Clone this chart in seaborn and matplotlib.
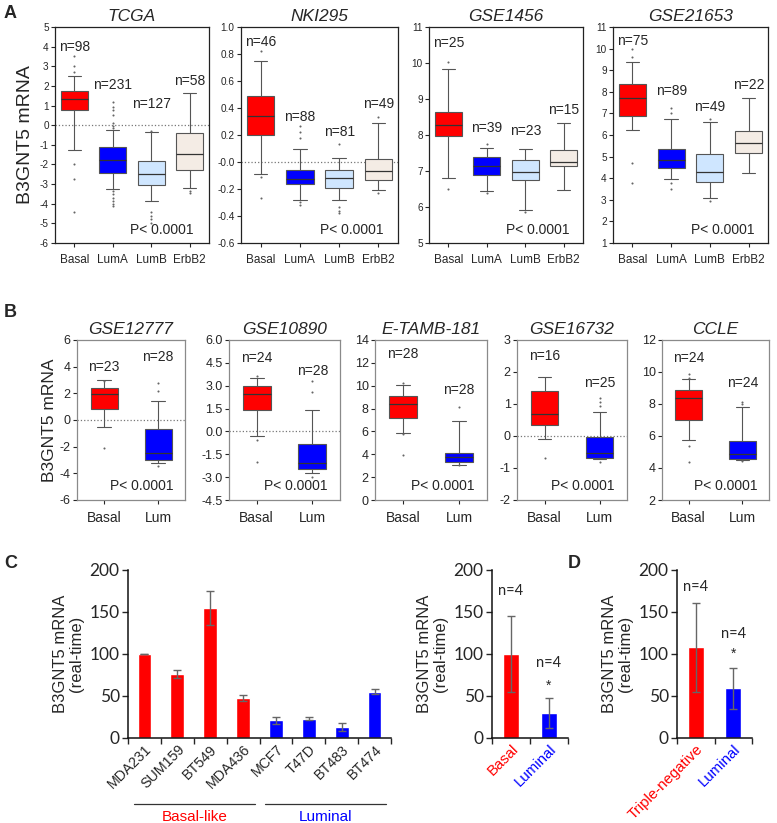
import numpy as np
import pandas as pd
import matplotlib.pyplot as plt
import matplotlib.transforms as mtransforms
import seaborn as sns

sns.set_style("ticks")
plt.rcParams["font.family"] = ["Liberation Sans", "DejaVu Sans"]

# ---- data: five-number summaries [low whisker, q1, median, q3, high whisker] ----
pam50 = ["Basal", "LumA", "LumB", "ErbB2"]
pam50_colors = ["#ff0000", "#0000ff", "#cfe6ff", "#f4ece5"]
two_groups = ["Basal", "Lum"]
two_colors = ["#ff0000", "#0000ff"]

tcga_stats = [[-1.24, 0.77, 1.33, 1.75, 2.48], [-3.26, -2.42, -1.77, -1.09, -0.25],
              [-3.88, -3.04, -2.48, -1.80, -0.33], [-3.20, -2.29, -1.46, -0.38, 1.65]]
tcga_out = [[3.5, 3.0, 2.7, -2.0, -2.75, -4.4],
            [1.2, 0.95, 0.75, 0.5, 0.1, -0.05, -0.15, -3.35, -3.5, -3.7, -3.85, -4.0, -4.1],
            [-0.3, -4.4, -4.6, -4.8, -5.0], [-3.35, -3.45]]
tcga_n = [98, 231, 127, 58]

nki_stats = [[-0.088, 0.198, 0.34, 0.49, 0.75], [-0.283, -0.164, -0.125, -0.061, 0.099],
             [-0.283, -0.194, -0.115, -0.058, 0.028], [-0.206, -0.135, -0.07, 0.02, 0.286]]
nki_out = [[0.82, -0.11, -0.27], [0.27, 0.22, 0.18, -0.30, -0.32],
           [0.13, -0.33, -0.36, -0.38], [0.33, -0.23]]
nki_n = [46, 88, 81, 49]

g1456_stats = [[6.8, 7.97, 8.27, 8.64, 9.82], [6.45, 6.89, 7.15, 7.38, 7.65],
               [5.92, 6.75, 6.96, 7.30, 7.60], [6.47, 7.15, 7.24, 7.57, 8.34]]
g1456_out = [[10.03, 6.5], [7.75, 6.4], [5.85], []]
g1456_n = [25, 39, 23, 15]

g21653_stats = [[6.22, 6.9, 7.69, 8.38, 9.38], [3.97, 4.48, 4.85, 5.37, 6.75],
                [3.08, 3.82, 4.31, 5.12, 6.6], [4.26, 5.15, 5.62, 6.18, 7.69]]
g21653_out = [[9.97, 9.6, 4.7, 3.77], [7.25, 7.0, 3.8, 3.5], [6.75, 2.95], []]
g21653_n = [75, 89, 49, 22]

g12777_stats = [[-0.53, 0.85, 1.92, 2.38, 3.0], [-3.25, -3.0, -2.5, -0.68, 1.45]]
g12777_out = [[2.9, -2.07], [2.75, 2.15, -3.45]]
g12777_n = [23, 28]

g10890_stats = [[-0.3, 1.38, 2.43, 2.98, 3.48], [-2.7, -2.45, -2.05, -0.83, 1.38]]
g10890_out = [[3.65, -0.55, -2.0], [3.3, 2.6, -3.0]]
g10890_n = [24, 28]

etamb_stats = [[5.9, 7.15, 8.4, 9.13, 10.06], [3.1, 3.3, 3.8, 4.12, 6.9]]
etamb_out = [[10.2, 5.8, 3.9], [8.1, 3.05]]
etamb_n = [28, 28]

g16732_stats = [[-0.1, 0.33, 0.69, 1.4, 1.83], [-0.73, -0.68, -0.54, -0.02, 0.76]]
g16732_out = [[-0.68], [1.2, 1.05, 0.95, -0.8]]
g16732_n = [16, 25]

ccle_stats = [[5.75, 6.98, 8.35, 8.88, 9.54], [4.5, 4.56, 4.85, 5.67, 7.83]]
ccle_out = [[9.85, 9.6, 5.35, 4.4], [8.15, 8.0, 4.45]]
ccle_n = [24, 24]

# panel C / D
cell_lines = ["MDA231", "SUM159", "BT549", "MDA436", "MCF7", "T47D", "BT483", "BT474"]
cell_type = ["Basal-like"] * 4 + ["Luminal"] * 4
cell_mrna = [100, 76, 155, 48, 21, 23, 13, 55]
cell_err = [0.5, 5, 20, 3.5, 4.5, 2, 4.5, 3]

subtype = ["Basal", "Luminal"]
subtype_mrna = [100, 30]
subtype_err = [45, 18]

tn_groups = ["Triple-negative", "Luminal"]
tn_mrna = [108, 59]
tn_err = [53, 24]

W, H = 777, 823
fig = plt.figure(figsize=(W / 100, H / 100), dpi=100)


def add_ax(left, top, width, height):
    return fig.add_axes([left / W, 1 - (top + height) / H, width / W, height / H])


def box_panel(ax, groups, colors, stats, outliers, counts, title, ylim, yticks, ylabels,
              n_y, width, tick_fs, lab_fs, p_pos, zero=True, frame="#222222"):
    df = pd.DataFrame({"group": np.repeat(groups, 5), "value": np.concatenate(stats)})
    if zero:
        ax.axhline(0, ls=":", color="#777777", lw=0.9, zorder=0)
    sns.boxplot(data=df, x="group", y="value", hue="group", order=groups,
                palette=dict(zip(groups, colors)), whis=(0, 100), width=width,
                linecolor="#555555", linewidth=0.8, fliersize=0, saturation=1,
                medianprops=dict(color="#333333", linewidth=0.9), legend=False, ax=ax)
    out = pd.DataFrame({"group": [g for g, o in zip(groups, outliers) for _ in o],
                        "value": np.concatenate([np.asarray(o, float) for o in outliers])})
    sns.stripplot(data=out, x="group", y="value", order=groups, jitter=False,
                  size=1.5, color="#666666", ax=ax)
    for i, (c, y) in enumerate(zip(counts, n_y)):
        ax.text(i, y, f"n={c}", ha="center", va="center", fontsize=10)
    ax.text(p_pos[0], p_pos[1], "P< 0.0001", transform=ax.transAxes,
            ha="right", va="baseline", fontsize=10)
    ax.set_xlim(-0.5, len(groups) - 0.5)
    ax.set_ylim(*ylim)
    ax.set_yticks(yticks)
    ax.set_yticklabels(ylabels)
    ax.set_xlabel("")
    ax.set_ylabel("")
    ax.set_title(title, style="italic", fontsize=12.5, pad=4)
    ax.tick_params(axis="y", labelsize=tick_fs, length=3, width=0.8, pad=1.5)
    ax.tick_params(axis="x", labelsize=lab_fs, length=3, width=0.8, pad=5)
    for s in ax.spines.values():
        s.set_visible(True)
        s.set_color(frame)
        s.set_linewidth(0.9)


def fmt(vals, pattern):
    return [pattern.format(v) for v in vals]


# ---- row A ----
axA = [add_ax(55, 27, 154, 216), add_ax(241, 27, 157, 216),
       add_ax(429, 27, 154, 216), add_ax(613, 27, 155, 216)]
box_panel(axA[0], pam50, pam50_colors, tcga_stats, tcga_out, tcga_n, "TCGA",
          (-6, 5), range(-6, 6), fmt(range(-6, 6), "{}"), [4.0, 2.05, 1.1, 2.25],
          0.7, 7.2, 8.5, (0.9, 0.04))
nki_ticks = np.round(np.arange(-0.6, 1.01, 0.2), 1)
box_panel(axA[1], pam50, pam50_colors, nki_stats, nki_out, nki_n, "NKI295",
          (-0.6, 1.0), nki_ticks, ["-0.6", "-0.4", "-0.2", "-0.0", "0.2", "0.4", "0.6", "0.8", "1.0"],
          [0.89, 0.335, 0.22, 0.43], 0.7, 7.2, 8.5, (0.91, 0.04))
box_panel(axA[2], pam50, pam50_colors, g1456_stats, g1456_out, g1456_n, "GSE1456",
          (5, 11), range(5, 12), fmt(range(5, 12), "{}"), [10.55, 8.2, 8.12, 8.7],
          0.7, 7.2, 8.5, (0.91, 0.04), zero=False)
box_panel(axA[3], pam50, pam50_colors, g21653_stats, g21653_out, g21653_n, "GSE21653",
          (1, 11), range(1, 12), fmt(range(1, 12), "{}"), [10.35, 8.05, 7.3, 8.3],
          0.7, 7.2, 8.5, (0.91, 0.04), zero=False)
axA[0].set_ylabel("B3GNT5 mRNA", fontsize=14, labelpad=4)

# ---- row B ----
gray = "#8a8a8a"
axB = [add_ax(77, 340, 108, 160), add_ax(229, 340, 111, 160), add_ax(375, 340, 112, 160),
       add_ax(517, 340, 110, 160), add_ax(662, 340, 107, 160)]
box_panel(axB[0], two_groups, two_colors, g12777_stats, g12777_out, g12777_n, "GSE12777",
          (-6, 6), range(-6, 7, 2), fmt(range(-6, 7, 2), "{}"), [4.0, 4.7],
          0.5, 9, 10, (0.89, 0.06), frame=gray)
t10890 = np.arange(-4.5, 6.1, 1.5)
box_panel(axB[1], two_groups, two_colors, g10890_stats, g10890_out, g10890_n, "GSE10890",
          (-4.5, 6), t10890, fmt(t10890, "{:.1f}"), [4.85, 3.95],
          0.5, 9, 10, (0.89, 0.06), frame=gray)
box_panel(axB[2], two_groups, two_colors, etamb_stats, etamb_out, etamb_n, "E-TAMB-181",
          (0, 14), range(0, 15, 2), fmt(range(0, 15, 2), "{}"), [12.8, 9.6],
          0.5, 9, 10, (0.89, 0.06), zero=False, frame=gray)
box_panel(axB[3], two_groups, two_colors, g16732_stats, g16732_out, g16732_n, "GSE16732",
          (-2, 3), range(-2, 4), fmt(range(-2, 4), "{}"), [2.5, 1.67],
          0.5, 9, 10, (0.89, 0.06), frame=gray)
box_panel(axB[4], two_groups, two_colors, ccle_stats, ccle_out, ccle_n, "CCLE",
          (2, 12), range(2, 13, 2), fmt(range(2, 13, 2), "{}"), [10.85, 9.3],
          0.5, 9, 10, (0.89, 0.06), zero=False, frame=gray)
axB[0].set_ylabel("B3GNT5 mRNA", fontsize=12.5, labelpad=2)


# ---- rows C / D ----
def bar_panel(ax, names, values, errs, colors, lab_fs, label_colors=None):
    sns.barplot(x=names, y=values, hue=names, palette=dict(zip(names, colors)),
                width=0.42, saturation=1, legend=False, ax=ax)
    ax.errorbar(np.arange(len(names)), values, yerr=errs, fmt="none",
                ecolor="#666666", elinewidth=1.0, capsize=3, capthick=1.0)
    ax.set_xlim(-0.5, len(names) - 0.5)
    ax.set_ylim(0, 200)
    ax.set_yticks([0, 50, 100, 150, 200])
    ax.set_xticks(np.arange(-0.5, len(names)), labels=[])
    ax.set_xticks(np.arange(len(names)), labels=names, minor=True)
    ax.tick_params(axis="x", which="major", length=4, width=1.0)
    ax.tick_params(axis="x", which="minor", length=0, labelsize=lab_fs, pad=3)
    plt.setp(ax.get_xticklabels(minor=True), rotation=45, ha="right", rotation_mode="anchor")
    ax.tick_params(axis="y", length=4, width=1.0, labelsize=12.5, pad=2)
    for lab in ax.get_yticklabels():
        lab.set_family("Lato")
    if label_colors:
        for lab, c in zip(ax.get_xticklabels(minor=True), label_colors):
            lab.set_color(c)
    sns.despine(ax=ax)
    for s in ["left", "bottom"]:
        ax.spines[s].set_linewidth(1.1)
        ax.spines[s].set_color("#111111")
    ax.set_xlabel("")
    ax.set_ylabel("B3GNT5 mRNA\n(real-time)", fontsize=12, labelpad=4, linespacing=1.1)


type_color = {"Basal-like": "#ff0000", "Luminal": "#0000ff"}
axC = add_ax(128, 570, 263, 168)
bar_panel(axC, cell_lines, cell_mrna, cell_err, [type_color[t] for t in cell_type], 10.3)
trans = mtransforms.blended_transform_factory(axC.transData, axC.transAxes)
for t, (x0, x1) in zip(["Basal-like", "Luminal"], [(-0.32, 3.35), (3.68, 7.35)]):
    axC.plot([x0, x1], [-0.39, -0.39], color="#333333", lw=0.9, transform=trans, clip_on=False)
    axC.text((x0 + x1) / 2, -0.43, t, color=type_color[t], fontsize=11,
             ha="center", va="top", transform=trans)

axC2 = add_ax(492, 570, 76, 168)
bar_panel(axC2, subtype, subtype_mrna, subtype_err, ["#ff0000", "#0000ff"], 10.8,
          label_colors=["#ff0000", "#0000ff"])
axC2.text(0, 175, "n=4", ha="center", va="center", fontsize=10.5, family="Lato")
axC2.text(1, 89, "n=4", ha="center", va="center", fontsize=10.5, family="Lato")
axC2.text(1, 62, "*", ha="center", va="center", fontsize=10)

axD = add_ax(677, 570, 75, 168)
bar_panel(axD, tn_groups, tn_mrna, tn_err, ["#ff0000", "#0000ff"], 10.8,
          label_colors=["#ff0000", "#0000ff"])
axD.text(0, 180, "n=4", ha="center", va="center", fontsize=10.5, family="Lato")
axD.text(1, 124, "n=4", ha="center", va="center", fontsize=10.5, family="Lato")
axD.text(1, 100, "*", ha="center", va="center", fontsize=10)

# panel letters
for letter, x, y in [("A", 4, 14), ("B", 4, 312), ("C", 4, 564), ("D", 568, 564)]:
    fig.text(x / W, 1 - y / H, letter, fontsize=13, fontweight="bold", va="center")

fig.savefig("out.png", dpi=100)
